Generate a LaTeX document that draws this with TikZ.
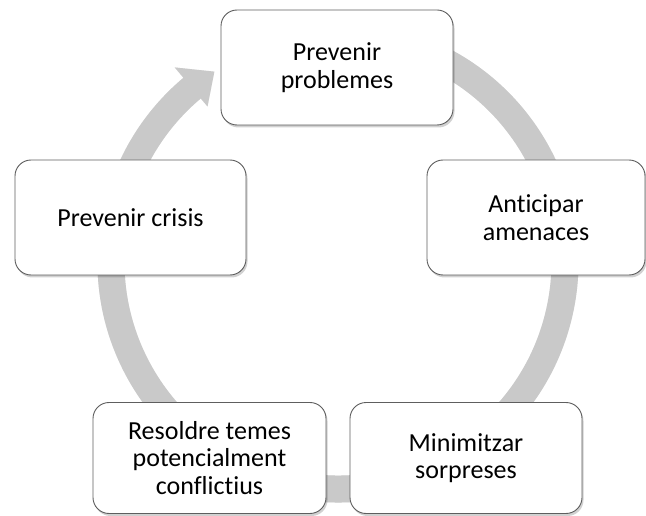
\documentclass[tikz,border=0pt]{standalone}
\usepackage{fontspec}
\setmainfont{Carlito}[Ligatures=NoCommon,RawFeature={-clig;-dlig}]
\usetikzlibrary{shadows}
\definecolor{bandgray}{HTML}{C9C9C9}
\definecolor{boxline}{HTML}{5E5E5E}
\begin{document}
\begin{tikzpicture}[x=1pt,y=1pt,
  cyclebox/.style={draw=boxline, line width=0.9pt, fill=white, rounded corners=16pt,
    drop shadow={shadow xshift=1.5pt, shadow yshift=-2.5pt, fill=black, opacity=0.18}},
  boxtext/.style={align=center, font=\fontsize{26}{27.5}\selectfont, text=black},
  bandshadow/.style={black, opacity=0.08}]
\useasboundingbox (0,0) rectangle (646,515);
\fill[white] (0,0) rectangle (646,515);
\coordinate (c) at (338,253);
% circular arrow: shadow
\begin{scope}[shift={(1.5pt,-2pt)}]
\draw[line width=27pt, bandshadow] ([shift={(80:227)}]c) arc[start angle=80, end angle=-230.5, radius=227];
\fill[bandshadow] ([shift={(130:254)}]c) -- ([shift={(123:227)}]c) -- ([shift={(130:203)}]c) -- cycle;
\end{scope}
% circular arrow
\draw[line width=27pt, bandgray] ([shift={(80:227)}]c) arc[start angle=80, end angle=-230.5, radius=227];
\fill[bandgray] ([shift={(130:254)}]c) -- ([shift={(123:227)}]c) -- ([shift={(130:203)}]c) -- cycle;
% boxes
\node[cyclebox, boxtext, minimum width=232pt, minimum height=115pt] (top) at (337,447.5) {Prevenir\\problemes};
\node[cyclebox, boxtext, minimum width=218pt, minimum height=115pt] (right) at (536,297.5) {Anticipar\\amenaces};
\node[cyclebox, boxtext, minimum width=231pt, minimum height=115pt] (left) at (130.5,297.5) {Prevenir crisis};
\node[cyclebox, boxtext, minimum width=233pt, minimum height=111pt] (botleft) at (209.5,57) {Resoldre temes\\potencialment\\conflictius};
\node[cyclebox, boxtext, minimum width=232pt, minimum height=111pt] (botright) at (466,57) {Minimitzar\\sorpreses};
\end{tikzpicture}
\end{document}
